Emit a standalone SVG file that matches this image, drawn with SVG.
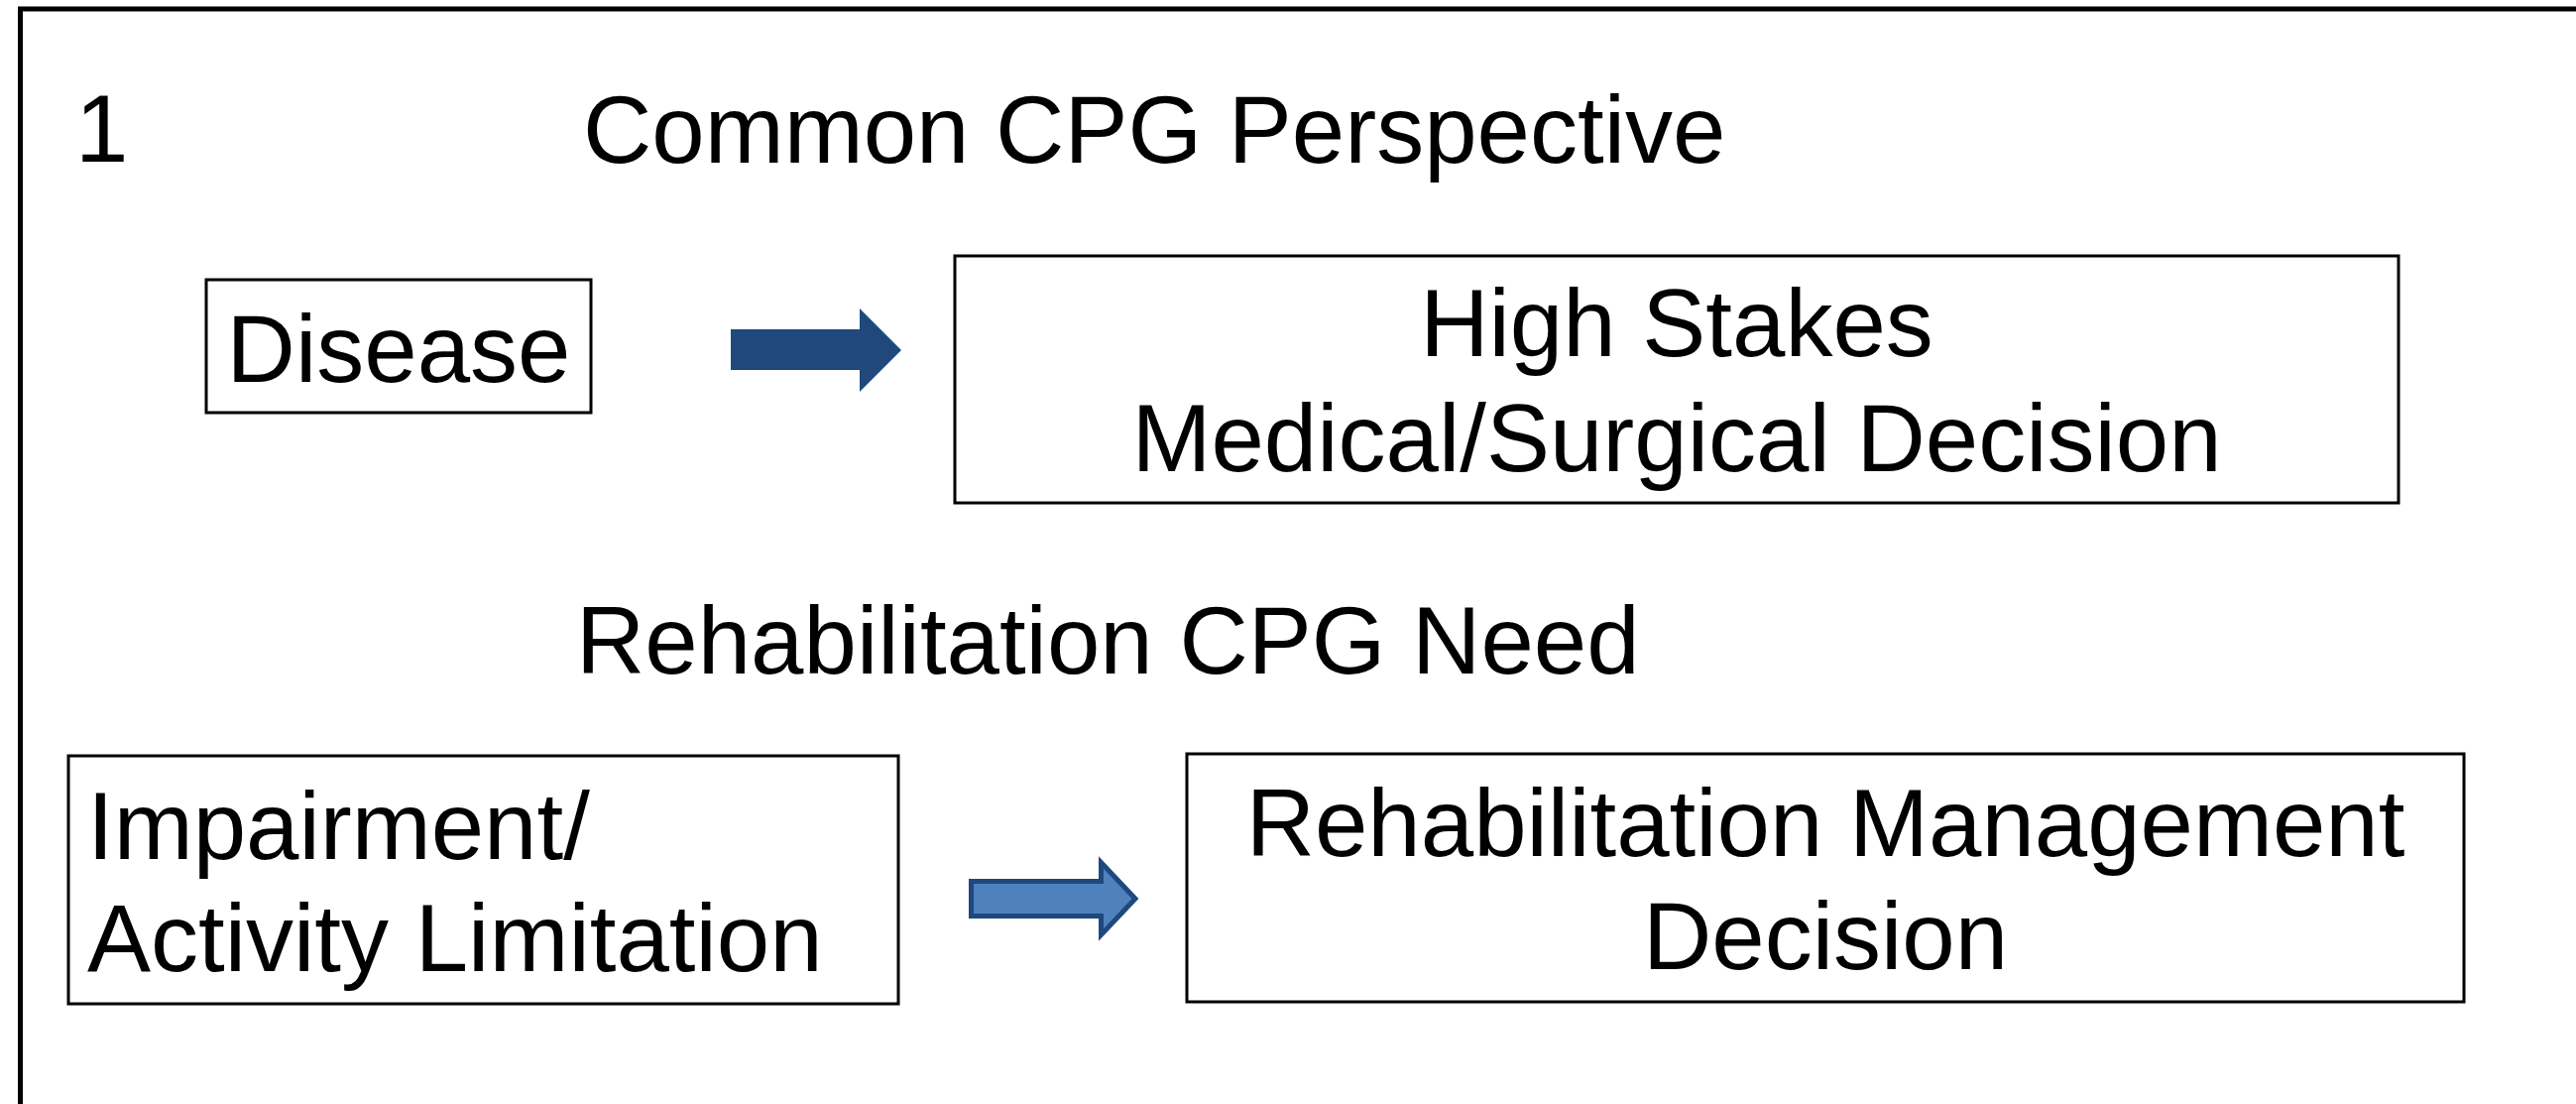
<svg xmlns="http://www.w3.org/2000/svg" width="2598" height="1113" viewBox="0 0 2598 1113">
  <style>
    text { font-family: "Liberation Sans", Arial, sans-serif; font-size: 96px; fill: #000; }
    .box { fill: #fff; stroke: #000; stroke-width: 3; }
    .mid { text-anchor: middle; }
  </style>
  <rect x="0" y="0" width="2598" height="1113" fill="#fff"/>
  <rect id="frame" x="20.5" y="9" width="2700" height="1300" fill="none" stroke="#000" stroke-width="5"/>

  <g id="labels">
    <text x="76" y="163">1</text>
    <text x="588" y="164">Common CPG Perspective</text>
    <text x="581" y="679">Rehabilitation CPG Need</text>
  </g>

  <g id="node-disease">
    <rect class="box" x="208" y="282" width="388" height="134"/>
    <text class="mid" x="402" y="385">Disease</text>
  </g>

  <g id="node-highstakes">
    <rect class="box" x="963" y="258" width="1456" height="249"/>
    <text class="mid" x="1691" y="359">High Stakes</text>
    <text class="mid" x="1691" y="475">Medical/Surgical Decision</text>
  </g>

  <g id="node-impairment">
    <rect class="box" x="69" y="762" width="837" height="250"/>
    <text x="88" y="866">Impairment/</text>
    <text x="88" y="979">Activity Limitation</text>
  </g>

  <g id="node-rehab">
    <rect class="box" x="1197" y="760" width="1288" height="250"/>
    <text class="mid" x="1841" y="863">Rehabilitation Management</text>
    <text class="mid" x="1841" y="977">Decision</text>
  </g>

  <g id="connectors">
    <polygon points="737,332 867,332 867,311 909,353 867,395 867,373 737,373" fill="#1F497D"/>
    <polygon points="979.5,888.5 1110.5,888.5 1110.5,869.5 1145,906 1110.5,942.5 1110.5,923.5 979.5,923.5" fill="#4F81BD" stroke="#1F497D" stroke-width="5"/>
  </g>
</svg>
